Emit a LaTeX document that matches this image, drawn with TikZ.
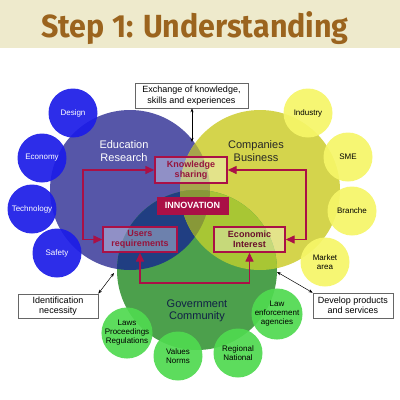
\documentclass[tikz,border=0pt]{standalone}
\usepackage{fontspec}
\setmainfont{Liberation Sans}
\newfontfamily\titlefont{Fira Sans}
\usetikzlibrary{arrows.meta,calc}
\definecolor{band}{RGB}{238,234,204}
\definecolor{titlebrown}{RGB}{155,100,30}
\definecolor{bigblue}{RGB}{86,86,168}
\definecolor{bigyellow}{RGB}{212,212,76}
\definecolor{biggreen}{RGB}{76,160,76}
\definecolor{navyov}{RGB}{32,62,130}
\definecolor{khakiov}{RGB}{166,166,76}
\definecolor{ygov}{RGB}{168,198,52}
\definecolor{tripleov}{RGB}{136,152,56}
\definecolor{smblue}{RGB}{28,28,232}
\definecolor{smyellow}{RGB}{246,246,104}
\definecolor{smgreen}{RGB}{80,218,80}
\definecolor{crim}{RGB}{170,16,70}
\definecolor{crimtext}{RGB}{150,20,60}
\definecolor{govtext}{RGB}{16,32,70}
\tikzset{
  smallc/.style={circle,minimum size=49pt,inner sep=0pt,align=center,font=\fontsize{8}{9}\selectfont,fill opacity=0.92,text opacity=1},
  sblue/.style={smallc,fill=smblue,text=white},
  syellow/.style={smallc,fill=smyellow,text=black},
  sgreen/.style={smallc,fill=smgreen,text=black},
  redbox/.style={draw=crim,line width=1.4pt,fill=white,fill opacity=0.35,text opacity=1,inner sep=0pt,align=center,font=\bfseries\fontsize{9}{10.5}\selectfont,text=crimtext},
  labelbox/.style={draw=black!60,fill=white,line width=0.6pt,inner sep=0pt,align=center,font=\fontsize{9}{10.5}\selectfont},
  conn/.style={draw=crim,line width=1.4pt,{Triangle[length=9pt,width=8pt]}-{Triangle[length=9pt,width=8pt]}},
  thinarrow/.style={draw=black,line width=0.5pt,{Stealth[length=4pt,width=3pt]}-{Stealth[length=4pt,width=3pt]}},
  biglabel/.style={align=center,font=\fontsize{11}{12.5}\selectfont}
}
\begin{document}
\begin{tikzpicture}[x=1pt,y=-1pt]
\useasboundingbox (0,0) rectangle (400,400);
\fill[white] (0,0) rectangle (400,400);
\fill[band] (0,0) rectangle (400,48);
\node[titlebrown,font=\titlefont\bfseries\fontsize{32}{32}\selectfont,xscale=0.95] (title) at (195,28) {Step 1: Understanding};
% big circles
\def\bluec{(130,190) circle[radius=80pt]}
\def\yellowc{(260,190) circle[radius=80pt]}
\def\greenc{(197,270) circle[radius=80pt]}
\fill[bigblue] \bluec;
\fill[bigyellow] \yellowc;
\fill[biggreen] \greenc;
\begin{scope}\clip \bluec; \fill[khakiov] \yellowc; \end{scope}
\begin{scope}\clip \bluec; \fill[navyov] \greenc; \end{scope}
\begin{scope}\clip \yellowc; \fill[ygov] \greenc; \end{scope}
\begin{scope}\clip \bluec; \clip \yellowc; \fill[tripleov] \greenc; \end{scope}
% big labels
\node[biglabel,text=white] (edu) at (124,151) {Education\\Research};
\node[biglabel,text=black!85] (comp) at (256,151) {Companies\\Business};
\node[biglabel,text=govtext] (gov) at (197,311) {Government\\Community};
% small circles
\node[sblue] (design) at (73,113) {Design};
\node[sblue] (economy) at (42,158) {Economy};
\node[sblue] (tech) at (32,209) {Technology};
\node[sblue] (safety) at (57,253) {Safety};
\node[syellow] (industry) at (308,113) {Industry};
\node[syellow] (sme) at (348,157) {SME};
\node[syellow] (branche) at (352,211) {Branche};
\node[syellow] (market) at (325,262) {Market\\area};
\node[sgreen] (laws) at (127,333) {Laws\\Proceedings\\Regulations};
\node[sgreen] (values) at (178,356) {Values\\Norms};
\node[sgreen] (regional) at (238,353) {Regional\\National};
\node[sgreen] (lawenf) at (277,314) {Law\\enforcement\\agencies};
% inner boxes
\node[redbox,minimum width=72pt,minimum height=26pt] (ks) at (191,170) {Knowledge\\sharing};
\node[draw=crim,fill=crim,text=white,font=\bfseries\fontsize{9}{10}\selectfont,minimum width=71pt,minimum height=17pt,inner sep=0pt] (innov) at (192.5,205.5) {INNOVATION};
\node[redbox,minimum width=74pt,minimum height=25pt] (ur) at (140,239.5) {Users\\requirements};
\node[redbox,minimum width=71pt,minimum height=25pt,text=crimtext!70!black] (ei) at (249.5,239.5) {Economic\\Interest};
% connectors
\coordinate (lx) at (83,200);
\coordinate (rx) at (306,200);
\coordinate (by) at (200,283);
\draw[conn] (ks.west) -- (ks.west -| lx) -- (lx |- ur.west) -- (ur.west);
\draw[conn] (ks.east) -- (ks.east -| rx) -- (rx |- ei.east) -- (ei.east);
\draw[conn] (ur.south) -- (ur.south |- by) -- (ei.south |- by) -- (ei.south);
% label boxes
\node[labelbox,minimum width=113pt,minimum height=25pt] (exch) at (191.5,95.5) {Exchange of knowledge,\\skills and experiences};
\node[labelbox,minimum width=80pt,minimum height=24pt] (ident) at (58,306) {Identification\\necessity};
\node[labelbox,minimum width=80pt,minimum height=25pt] (devel) at (353,305.5) {Develop products\\and services};
\coordinate (lens) at (192,142);
\coordinate (bl) at (114,273);
\coordinate (yl) at (277,272);
\draw[thinarrow] (exch.south -| lens) -- (lens);
\draw[thinarrow] (ident.north east) -- (bl);
\draw[thinarrow] (devel.north west) -- (yl);
\end{tikzpicture}
\end{document}
